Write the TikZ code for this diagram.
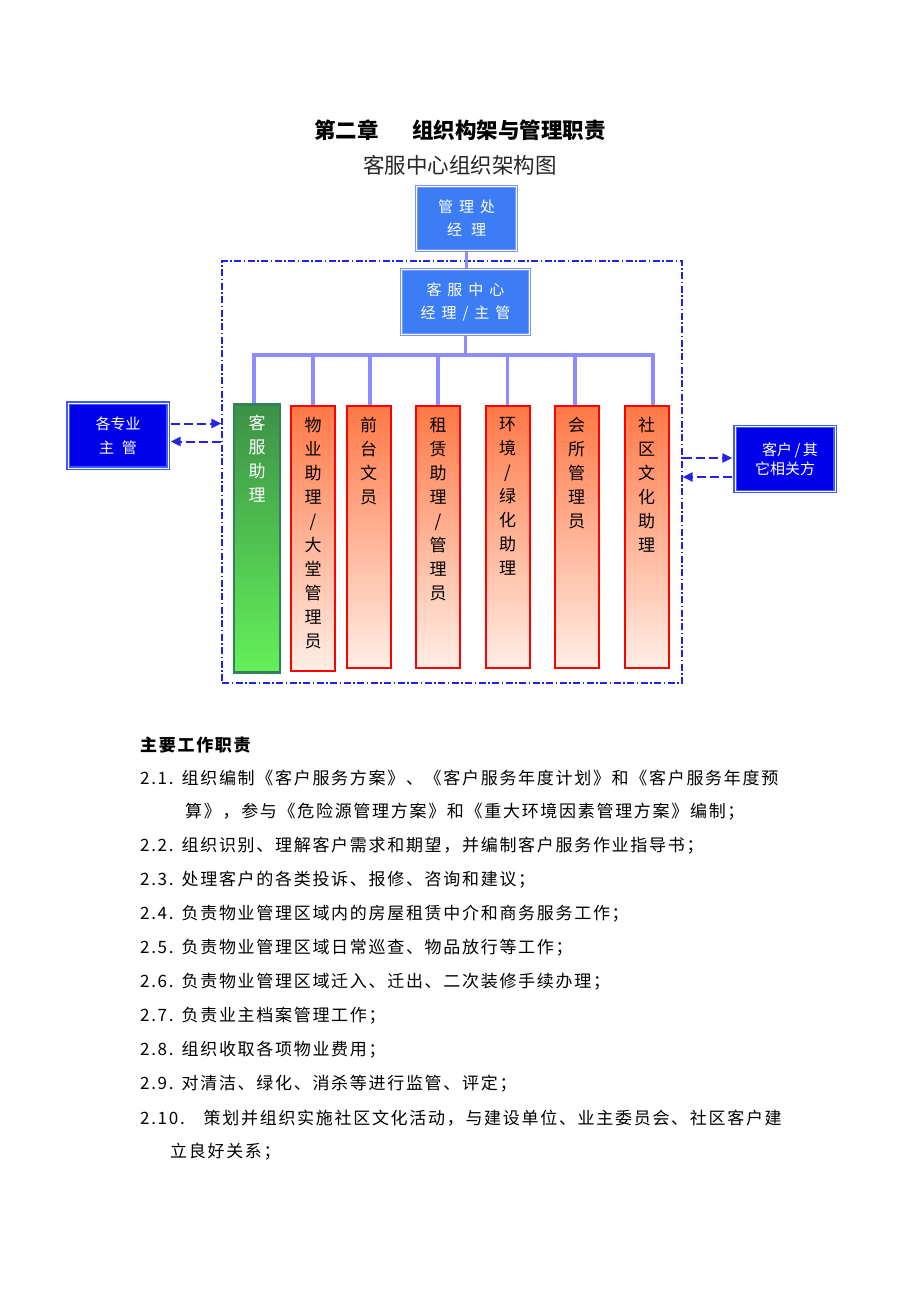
\documentclass[tikz,border=0pt]{standalone}
\usepackage{fontspec}
\setmainfont{Noto Sans CJK SC}
\newfontfamily\bodyfont[LetterSpace=10]{Noto Sans CJK SC}
\newfontfamily\boxfont[LetterSpace=40]{Noto Sans CJK SC}
\usetikzlibrary{positioning,calc,arrows.meta}

\definecolor{linkblue}{RGB}{140,140,255}
\definecolor{areablue}{RGB}{35,35,225}
\definecolor{mgrfill}{RGB}{60,125,245}
\definecolor{mgrline}{RGB}{120,150,255}
\definecolor{sidefill}{RGB}{0,0,235}
\definecolor{sideline}{RGB}{60,90,255}
\definecolor{redtop}{RGB}{255,120,70}
\definecolor{redbot}{RGB}{255,238,230}
\definecolor{grntop}{RGB}{60,145,70}
\definecolor{grnbot}{RGB}{100,240,90}
\definecolor{grnline}{RGB}{50,130,90}

% column text: chars stacked from the top of the box
\newcommand{\coltext}[2]{\parbox[c][#1pt][t]{40pt}{\centering\vspace*{11pt}#2}}

\begin{document}
\begin{tikzpicture}[x=1pt, y=-1pt,
    linkline/.style={draw=linkblue, line width=3.5pt},
    areabox/.style={draw=areablue, line width=1.2pt, dash pattern=on 7pt off 2.5pt on 1.5pt off 2.5pt,
        minimum width=460pt, minimum height=422pt, inner sep=0pt},
    mgrbox/.style={draw=mgrline, double=white, double distance=1pt, line width=1.2pt, fill=mgrfill,
        text=white, align=center, inner sep=0pt, font=\boxfont\fontsize{15}{23}\selectfont},
    sidebox/.style={draw=sideline, double=white, double distance=1pt, line width=1.2pt, fill=sidefill,
        text=white, align=center, inner sep=0pt, minimum width=100pt, minimum height=65pt},
    redcol/.style={draw=red, line width=2pt, top color=redtop, bottom color=redbot, anchor=north,
        inner sep=0pt, minimum width=44pt, font=\fontsize{17}{24}\selectfont},
    greencol/.style={draw=grnline, line width=2.5pt, top color=grntop, bottom color=grnbot, anchor=north,
        inner sep=0pt, minimum width=46pt, text=white, font=\fontsize{17}{24}\selectfont},
    dasharrow/.style={draw=areablue, line width=2pt, dash pattern=on 9pt off 4pt,
        -{Triangle[length=10pt,width=9pt]}},
    line/.style={anchor=west, inner sep=0pt, font=\bodyfont\fontsize{17}{20}\selectfont}
]
\useasboundingbox (0,0) rectangle (920,1302);

% titles
\node[font=\fontsize{21.5}{24}\selectfont\bfseries] (title) at (460,130) {第二章\hspace{34pt}组织构架与管理职责};
\node[font=\fontsize{21.5}{24}\selectfont, text=black!85] (subtitle) at (460,165) {客服中心组织架构图};

% chart
\node[areabox] (area) at (452,472) {};
\node[mgrbox, minimum width=100pt, minimum height=64pt] (gl) at (466.5,218.5) {管理处\\经\hspace{9pt}理};
\node[mgrbox, minimum width=128pt, minimum height=65pt] (kfzx) at (465.5,302) {客服中心\\经理/主管};
\node[sidebox, font=\fontsize{15}{24}\selectfont] (zy) at (118,435.5) {各专业\\主\hspace{8pt}管};
\node[sidebox, font=\fontsize{15}{19}\selectfont] (kh) at (785,459) {\hspace{10pt}客户\,/\,其\\它相关方};

\node[greencol, minimum height=268pt] (kz) at (257,403) {\coltext{268}{客\\服\\助\\理}};
\foreach \nm/\cx/\h/\txt in {wy/313/265/{物\\业\\助\\理\\/\\大\\堂\\管\\理\\员},
        qt/368.5/262/{前\\台\\文\\员}, zl/438/262/{租\\赁\\助\\理\\/\\管\\理\\员},
        hj/507.5/262/{环\\境\\/\\绿\\化\\助\\理}, hs/576.5/262/{会\\所\\管\\理\\员},
        sq/646.5/262/{社\\区\\文\\化\\助\\理}}
    \node[redcol, minimum height=\h pt] (\nm) at (\cx,405) {\coltext{\h}{\txt}};

\coordinate[below=20pt of kfzx.south] (bar);
\draw[linkline] (gl.south) -- (gl.south |- kfzx.north);
\draw[linkline] (kfzx.south) -- (bar);
\foreach \nm/\dx in {kz/-3,wy/0,qt/1.5,zl/0,hj/0,hs/-1.5,sq/6.5}
    \draw[linkline] (bar) -| ([xshift=\dx pt]\nm.north);

\draw[dasharrow] ($(zy.east)+(2,-12)$) -- ($(area.west |- zy.east)+(0,-12)$);
\draw[dasharrow] ($(area.west |- zy.east)+(0,6)$) -- ($(zy.east)+(2,6)$);
\draw[dasharrow] ($(area.east |- kh.west)+(0,-1)$) -- ($(kh.west)+(-2,-1)$);
\draw[dasharrow] ($(kh.west)+(-2,18)$) -- ($(area.east |- kh.west)+(0,18)$);

% duties
\node[line, font=\bodyfont\fontsize{17}{20}\selectfont\bfseries] (duty) at (140,745) {主要工作职责};
\node[line] (d1) at (140,778) {2.1.\hspace{8pt}组织编制《客户服务方案》、《客户服务年度计划》和《客户服务年度预};
\node[line] (d1b) at (185,812) {算》，参与《危险源管理方案》和《重大环境因素管理方案》编制；};
\node[line] (d2) at (140,846) {2.2.\hspace{8pt}组织识别、理解客户需求和期望，并编制客户服务作业指导书；};
\node[line] (d3) at (140,880) {2.3.\hspace{8pt}处理客户的各类投诉、报修、咨询和建议；};
\node[line] (d4) at (140,914) {2.4.\hspace{8pt}负责物业管理区域内的房屋租赁中介和商务服务工作；};
\node[line] (d5) at (140,948) {2.5.\hspace{8pt}负责物业管理区域日常巡查、物品放行等工作；};
\node[line] (d6) at (140,982) {2.6.\hspace{8pt}负责物业管理区域迁入、迁出、二次装修手续办理；};
\node[line] (d7) at (140,1016) {2.7.\hspace{8pt}负责业主档案管理工作；};
\node[line] (d8) at (140,1050) {2.8.\hspace{8pt}组织收取各项物业费用；};
\node[line] (d9) at (140,1084) {2.9.\hspace{8pt}对清洁、绿化、消杀等进行监管、评定；};
\node[line] (d10) at (140,1118) {2.10.\hspace{19pt}策划并组织实施社区文化活动，与建设单位、业主委员会、社区客户建};
\node[line] (d10b) at (170,1152) {立良好关系；};
\end{tikzpicture}
\end{document}
